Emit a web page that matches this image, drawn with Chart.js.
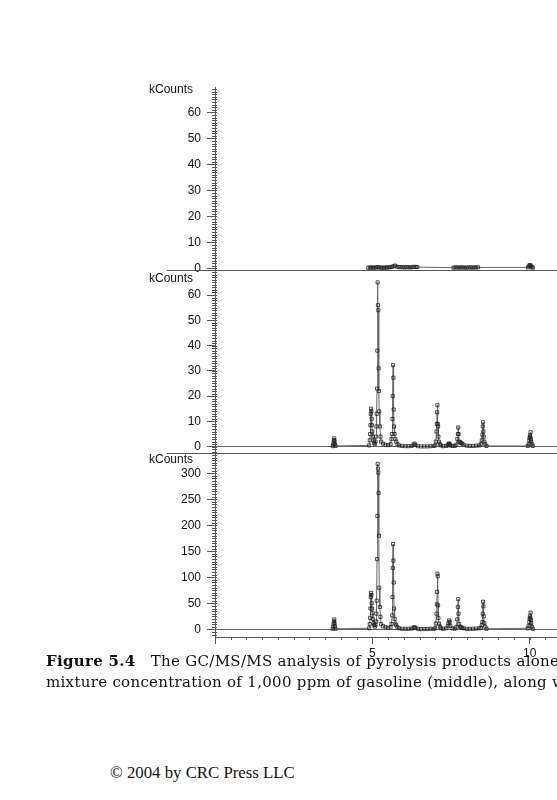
<!DOCTYPE html>
<html>
<head>
<meta charset="utf-8">
<script src="https://cdn.jsdelivr.net/npm/chart.js@4.4.1/dist/chart.umd.min.js"></script>
<style>
html, body { margin: 0; padding: 0; background: #fff; }
body { width: 557px; height: 800px; overflow: hidden; position: relative; }
canvas.panel { position: absolute; left: 0; }
.caption { position: absolute; left: 46px; top: 651px; width: 511px; overflow: hidden; white-space: nowrap;
  font-family: "DejaVu Serif", serif; font-size: 15px; letter-spacing: 0.3px; line-height: 21px; color: #111; }
.copy { position: absolute; left: 110px; top: 763px; font-family: "Liberation Serif", serif; font-size: 16.8px; color: #111; }
</style>
</head>
<body>
<canvas id="top" class="panel" width="557" height="203" style="top:77px"></canvas>
<canvas id="mid" class="panel" width="557" height="203" style="top:260px"></canvas>
<canvas id="bottom" class="panel" width="557" height="224" style="top:443px"></canvas>
<div class="caption"><b>Figure 5.4</b>&nbsp;&nbsp;&nbsp;The GC/MS/MS analysis of pyrolysis products alone<br>mixture concentration of 1,000 ppm of gasoline (middle), along with</div>
<div class="copy">© 2004 by CRC Press LLC</div>
<script>
// retention time (min) and intensity (kCounts)
const topTimes = [4.87, 4.92, 4.97, 5.02, 5.07, 5.12, 5.17, 5.22, 5.27, 5.32, 5.37, 5.42, 5.47, 5.52, 5.57,
  5.62, 5.67, 5.72, 5.78, 5.84, 5.90, 5.96, 6.02, 6.08, 6.14, 6.20, 6.26, 6.32, 6.38, 6.43,
  7.58, 7.64, 7.70, 7.76, 7.82, 7.88, 7.94, 8.00, 8.06, 8.12, 8.18, 8.24, 8.30, 8.36,
  9.95, 9.98, 10.00, 10.02, 10.04, 10.07, 10.10];
const topCounts = [0.3, 0.3, 0.4, 0.3, 0.3, 0.4, 0.5, 0.4, 0.3, 0.3, 0.3, 0.3, 0.4, 0.4, 0.5,
  0.6, 0.8, 1.1, 0.7, 0.5, 0.5, 0.5, 0.4, 0.5, 0.5, 0.4, 0.5, 0.6, 0.6, 0.5,
  0.3, 0.4, 0.4, 0.3, 0.4, 0.4, 0.3, 0.3, 0.4, 0.4, 0.3, 0.4, 0.4, 0.4,
  0.4, 0.8, 1.3, 1.2, 0.9, 0.5, 0.3];

const scanTimes = [
  3.74, 3.76, 3.77, 3.78, 3.79, 3.80, 3.81, 3.83,
  4.90, 4.92, 4.93, 4.94, 4.95, 4.96, 4.97, 4.98, 4.99, 5.00, 5.02, 5.04, 5.06, 5.08,
  5.10, 5.12, 5.13, 5.14, 5.15, 5.16, 5.17, 5.18, 5.19, 5.20, 5.21, 5.22, 5.24, 5.26, 5.28,
  5.34, 5.42, 5.50,
  5.58, 5.61, 5.63, 5.64, 5.65, 5.66, 5.67, 5.68, 5.69, 5.71, 5.73, 5.76, 5.80,
  5.85, 5.95, 6.05, 6.15, 6.25, 6.31, 6.34, 6.37, 6.45, 6.55, 6.65, 6.75, 6.85, 6.95,
  7.00, 7.02, 7.04, 7.05, 7.06, 7.07, 7.08, 7.09, 7.10, 7.12, 7.15, 7.18,
  7.25, 7.35, 7.40, 7.42, 7.44, 7.46, 7.48, 7.55,
  7.62, 7.67, 7.70, 7.72, 7.73, 7.74, 7.76, 7.79, 7.82, 7.85, 7.90, 8.00, 8.10, 8.20, 8.30, 8.40,
  8.45, 8.48, 8.50, 8.51, 8.52, 8.53, 8.54, 8.56, 8.59, 8.63,
  9.94, 9.97, 9.99, 10.00, 10.01, 10.02, 10.03, 10.04, 10.05, 10.07, 10.10];
const midCounts = [
  0.2, 0.8, 1.6, 2.6, 3.3, 2.2, 1.0, 0.3,
  0.5, 2.5, 5, 8.5, 13, 15, 14, 11, 8.5, 6, 4, 2.5, 1.5, 1,
  2, 4, 8, 13, 23, 38, 65, 56, 54, 31, 22, 14, 8, 4, 2,
  1.2, 0.8, 0.6,
  1, 3, 5, 11, 20, 32.3, 27.3, 14.7, 8, 5, 3, 2, 1,
  0.5, 0.3, 0.2, 0.2, 0.3, 0.8, 1.2, 0.7, 0.2, 0.1, 0.1, 0.1, 0.2, 0.3,
  0.5, 2, 6, 9, 13.6, 16.4, 9, 8, 4, 2, 1, 0.5,
  0.2, 0.3, 0.6, 1.0, 1.3, 0.9, 0.5, 0.3,
  0.3, 0.8, 3, 5, 7.6, 5, 2, 1.8, 1.5, 1.2, 0.8, 0.4, 0.3, 0.3, 0.4, 0.5,
  1, 2.5, 4.7, 8, 9.7, 6, 4, 2, 1, 0.3,
  0.3, 1, 2.5, 3.5, 4.5, 4, 5.7, 3, 2, 1, 0.3];
const bottomCounts = [
  1, 5, 10, 15, 19, 12, 6, 1,
  2, 10, 22, 40, 62, 70, 66, 50, 40, 31, 20, 12, 8, 5,
  8, 15, 30, 55, 135, 218, 318, 309, 301, 262, 180, 80, 43, 24, 10,
  6, 4, 3,
  4, 10, 27, 62, 118, 164, 132, 90, 40, 20, 11, 8, 4,
  2, 1, 1, 1, 1.5, 3, 4, 2.5, 1, 0.5, 0.5, 0.5, 1, 1,
  2, 11, 30, 48, 72, 107, 102, 46, 22, 11, 5, 2,
  1, 2, 6, 12, 17, 14, 6, 2,
  1, 4, 19, 43, 58, 30, 10, 5, 4, 3, 2, 1, 1, 1, 1.5, 2,
  3, 8, 14, 30, 53, 44, 25, 12, 5, 1,
  2, 6, 14, 20, 25, 22, 32, 18, 12, 5, 1];

const xLabels = [5, 10];
const yLabelsSmall = [0, 10, 20, 30, 40, 50, 60];
const yLabelsLarge = [0, 50, 100, 150, 200, 250, 300];

Chart.defaults.font.family = '"Liberation Sans", Arial, sans-serif';
Chart.defaults.font.size = 12;
Chart.defaults.color = '#111';

// minor ticks, separator rule and the "kCounts" heading
const panelDecor = {
    id: 'panelDecor',
    afterDraw(chart, args, opts) {
        const { ctx, chartArea } = chart;
        const ys = chart.scales.y;
        const xs = chart.scales.x;
        ctx.save();
        ctx.strokeStyle = '#555';
        ctx.lineWidth = 1;
        ctx.beginPath();
        for (let v = Math.ceil(ys.min / opts.yMinor) * opts.yMinor; v <= ys.max; v += opts.yMinor) {
            const y = Math.round(ys.getPixelForValue(v)) + 0.5;
            ctx.moveTo(chartArea.left - 3, y);
            ctx.lineTo(chartArea.left + 2, y);
        }
        if (opts.xMinor) {
            for (let v = xs.min; v <= xs.max; v += opts.xMinor) {
                const x = Math.round(xs.getPixelForValue(v)) + 0.5;
                ctx.moveTo(x, chartArea.bottom);
                ctx.lineTo(x, chartArea.bottom + 3);
            }
        }
        if (opts.topRule) {
            ctx.moveTo(167, chartArea.top + 0.5);
            ctx.lineTo(chartArea.right, chartArea.top + 0.5);
        }
        ctx.stroke();
        ctx.fillStyle = '#111';
        ctx.font = '12px "Liberation Sans", Arial, sans-serif';
        ctx.textBaseline = 'middle';
        ctx.textAlign = 'left';
        ctx.fillText('kCounts', 149, chartArea.top + opts.labelOffset);
        ctx.restore();
    }
};

function makePanel(id, times, counts, cfg) {
    const points = times.map((t, i) => ({ x: t, y: counts[i] }));
    return new Chart(document.getElementById(id), {
        type: 'line',
        data: {
            datasets: [{
                data: points,
                borderColor: '#666',
                borderWidth: 1,
                pointStyle: 'rect',
                pointRadius: 2.2,
                pointBorderWidth: 0.8,
                pointBorderColor: '#222',
                pointBackgroundColor: 'rgba(255,255,255,0)',
                tension: 0
            }]
        },
        options: {
            responsive: false,
            animation: false,
            layout: { autoPadding: false, padding: { top: 10, bottom: cfg.showX ? 0 : 10, left: 0, right: 0 } },
            plugins: {
                legend: { display: false },
                tooltip: { enabled: false },
                panelDecor: { yMinor: cfg.yMinor, xMinor: cfg.showX ? 0.5 : 0, topRule: cfg.topRule, labelOffset: cfg.labelOffset }
            },
            scales: {
                x: {
                    type: 'linear',
                    display: cfg.showX,
                    min: 0,
                    max: 10.87,
                    ticks: {
                        stepSize: 5,
                        includeBounds: false,
                        autoSkip: false,
                        maxRotation: 0,
                        padding: 2,
                        callback: v => xLabels.includes(v) ? String(v) : ''
                    },
                    grid: { drawOnChartArea: false, tickLength: 7, tickColor: '#555' },
                    border: { color: '#555' },
                    afterBuildTicks: s => { s.ticks = s.ticks.filter(t => t.value % 5 === 0); },
                    afterFit: s => {
                        if (cfg.showX) s.height = 30;
                        s.paddingLeft = 0; s.paddingRight = 0;
                    }
                },
                y: {
                    min: cfg.min,
                    max: cfg.max,
                    ticks: { stepSize: cfg.step, padding: 6, autoSkip: false },
                    grid: {
                        drawOnChartArea: true,
                        color: c => (cfg.zeroLine && c.tick && c.tick.value === 0) ? '#666' : 'rgba(0,0,0,0)',
                        tickColor: '#555',
                        tickLength: 8
                    },
                    border: { color: '#555' },
                    afterBuildTicks: s => { s.ticks = cfg.labels.map(v => ({ value: v })); },
                    afterFit: s => {
                        s.width = 215;
                        s.paddingTop = 0; s.paddingBottom = 0;
                    }
                }
            }
        },
        plugins: [panelDecor]
    });
}

makePanel('top', topTimes, topCounts,
    { min: -0.6, max: 69.8, step: 10, yMinor: 1, labels: yLabelsSmall, showX: false, topRule: false, zeroLine: false, labelOffset: 3 });
makePanel('mid', scanTimes, midCounts,
    { min: -2.5, max: 69.9, step: 10, yMinor: 1, labels: yLabelsSmall, showX: false, topRule: true, zeroLine: true, labelOffset: 9 });
makePanel('bottom', scanTimes, bottomCounts,
    { min: -14.8, max: 339, step: 50, yMinor: 5, labels: yLabelsLarge, showX: true, topRule: true, zeroLine: true, labelOffset: 7 });
</script>
</body>
</html>
